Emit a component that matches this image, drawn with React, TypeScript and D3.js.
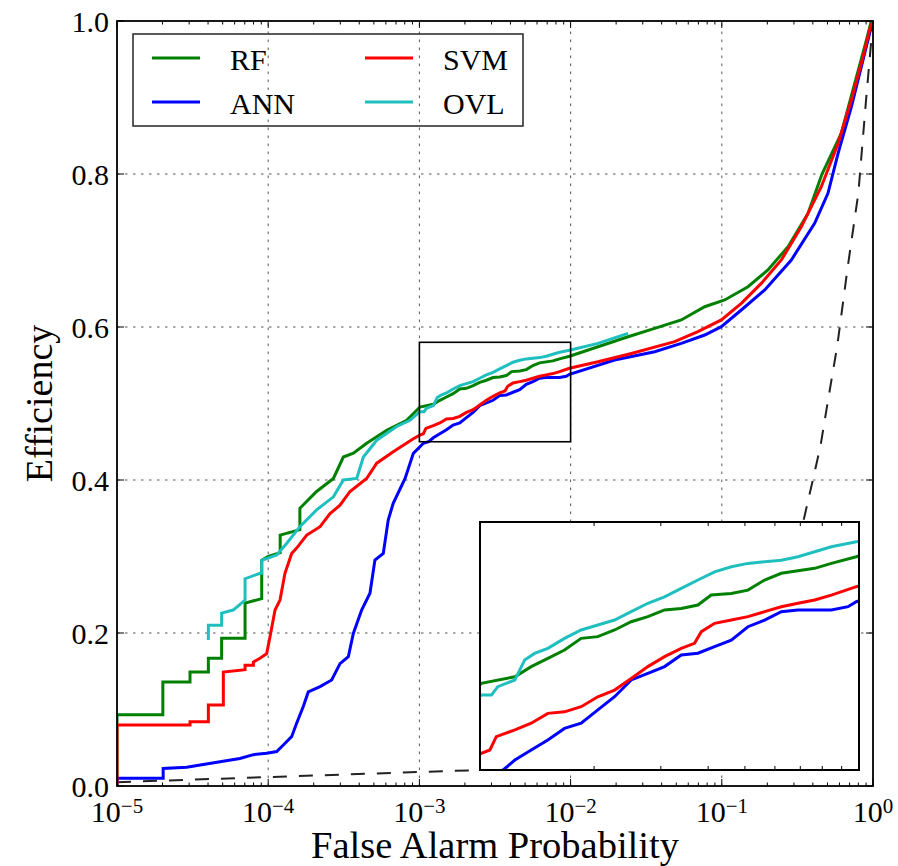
import React from 'react';
import * as d3 from 'd3';

type P = [number, number];

const W = 898;
const H = 866;

const xTickExps = [-5, -4, -3, -2, -1, 0];
const yTickValues = [0, 0.2, 0.4, 0.6, 0.8, 1.0];
const gridXValues = [1e-4, 1e-3, 1e-2, 1e-1];
const gridYValues = [0.2, 0.4, 0.6, 0.8];
const zoomFap = [1e-3, 1e-2];
const zoomEff = [0.45, 0.58];

const seriesNames = ['RF', 'ANN', 'SVM', 'OVL'];
const seriesColors = ['#008000', '#0000ff', '#ff0000', '#20bfbf'];

const rfPoints: P[] = [
  [1e-5, 0], [1e-5, 0.093], [2.01e-5, 0.093], [2.01e-5, 0.136], [3.04e-5, 0.136], [3.04e-5, 0.149],
  [4.02e-5, 0.149], [4.02e-5, 0.167], [4.92e-5, 0.167], [4.92e-5, 0.193], [7.03e-5, 0.193], [7.03e-5, 0.239],
  [9.06e-5, 0.245], [9.06e-5, 0.295], [1.0e-4, 0.30], [1.2e-4, 0.305], [1.2e-4, 0.328], [1.62e-4, 0.335],
  [1.62e-4, 0.363], [2.09e-4, 0.385], [2.7e-4, 0.402], [3.14e-4, 0.43], [3.66e-4, 0.435], [4.48e-4, 0.448],
  [6.08e-4, 0.465], [8.24e-4, 0.478], [1.008e-3, 0.4954], [1.236e-3, 0.4989], [1.365e-3, 0.5042],
  [1.51e-3, 0.5085], [1.671e-3, 0.5129], [1.849e-3, 0.519], [2.046e-3, 0.5199], [2.265e-3, 0.5234],
  [2.506e-3, 0.5277], [2.773e-3, 0.5304], [3.069e-3, 0.5339], [3.396e-3, 0.5347], [3.758e-3, 0.5365],
  [4.074e-3, 0.5417], [4.603e-3, 0.5425], [5.093e-3, 0.5443], [5.636e-3, 0.5496], [6.237e-3, 0.5531],
  [7.638e-3, 0.5557], [8.453e-3, 0.5583], [9.84e-3, 0.5618], [1.517e-2, 0.5742], [2.399e-2, 0.5873],
  [3.597e-2, 0.5982], [5.395e-2, 0.6092], [7.71e-2, 0.6265], [0.1045, 0.6353], [0.149, 0.6527],
  [0.2018, 0.6745], [0.2742, 0.705], [0.3715, 0.7485], [0.46, 0.80], [0.6166, 0.853], [0.7568, 0.9185],
  [0.881, 0.9665], [0.975, 1.0],
];

const annPoints: P[] = [
  [1e-5, 0], [1e-5, 0.010], [2.02e-5, 0.010], [2.02e-5, 0.023], [2.89e-5, 0.0245], [4.8e-5, 0.0318],
  [6.5e-5, 0.036], [7.98e-5, 0.041], [9.77e-5, 0.0427], [1.138e-4, 0.045], [1.259e-4, 0.0536],
  [1.429e-4, 0.0645], [1.542e-4, 0.082], [1.706e-4, 0.104], [1.841e-4, 0.123], [2.203e-4, 0.130],
  [2.63e-4, 0.1386], [2.985e-4, 0.160], [3.388e-4, 0.169], [3.656e-4, 0.1995], [4.15e-4, 0.230],
  [4.71e-4, 0.252], [5.08e-4, 0.2954], [5.77e-4, 0.304], [6.22e-4, 0.3477], [6.71e-4, 0.3695],
  [8.04e-4, 0.402], [9.12e-4, 0.4348], [1.062e-3, 0.448], [1.151e-3, 0.45], [1.236e-3, 0.4552],
  [1.365e-3, 0.4605], [1.51e-3, 0.4657], [1.671e-3, 0.4718], [1.849e-3, 0.4745], [2.046e-3, 0.4815],
  [2.265e-3, 0.4884], [2.506e-3, 0.4972], [2.773e-3, 0.5007], [3.069e-3, 0.5042], [3.396e-3, 0.5103],
  [3.758e-3, 0.5112], [4.159e-3, 0.5147], [4.603e-3, 0.5181], [5.093e-3, 0.5251], [5.636e-3, 0.5286],
  [6.237e-3, 0.533], [6.902e-3, 0.5339], [8.453e-3, 0.5339], [9.354e-3, 0.5356], [9.84e-3, 0.5382],
  [1.954e-2, 0.5569], [3.597e-2, 0.5677], [5.395e-2, 0.5786], [7.71e-2, 0.5895], [9.93e-2, 0.6004],
  [0.1346, 0.6222], [0.1923, 0.6484], [0.2884, 0.6876], [0.4111, 0.7355], [0.5035, 0.7747],
  [0.5875, 0.8269], [0.7194, 0.8879], [0.8375, 0.9402], [0.975, 0.993],
];

const svmPoints: P[] = [
  [1e-5, 0], [1e-5, 0.0797], [3.04e-5, 0.0797], [3.04e-5, 0.084], [4.02e-5, 0.084], [4.02e-5, 0.106],
  [5.05e-5, 0.106], [5.05e-5, 0.149], [7.03e-5, 0.152], [7.03e-5, 0.158], [7.98e-5, 0.158], [7.98e-5, 0.162],
  [8.83e-5, 0.167], [9.77e-5, 0.173], [1.028e-4, 0.195], [1.11e-4, 0.230], [1.197e-4, 0.243],
  [1.291e-4, 0.278], [1.429e-4, 0.304], [1.542e-4, 0.311], [1.799e-4, 0.328], [2.203e-4, 0.339],
  [2.564e-4, 0.356], [2.985e-4, 0.367], [3.475e-4, 0.385], [4.477e-4, 0.402], [5.224e-4, 0.422],
  [6.714e-4, 0.437], [9.12e-4, 0.454], [1.008e-3, 0.4587], [1.062e-3, 0.4605], [1.104e-3, 0.4675],
  [1.236e-3, 0.471], [1.365e-3, 0.4745], [1.51e-3, 0.4797], [1.671e-3, 0.4805], [1.849e-3, 0.4832],
  [2.046e-3, 0.4884], [2.265e-3, 0.4919], [2.506e-3, 0.498], [2.773e-3, 0.5042], [3.069e-3, 0.5094],
  [3.396e-3, 0.5138], [3.681e-3, 0.5164], [3.837e-3, 0.5225], [4.159e-3, 0.5269], [4.603e-3, 0.5286],
  [5.093e-3, 0.5304], [5.636e-3, 0.533], [6.237e-3, 0.5356], [6.902e-3, 0.5374], [7.638e-3, 0.5391],
  [8.453e-3, 0.5417], [9.84e-3, 0.5461], [1.517e-2, 0.5545], [2.523e-2, 0.5654], [4.875e-2, 0.5808],
  [6.95e-2, 0.5939], [9.93e-2, 0.6092], [0.1346, 0.6309], [0.1824, 0.657], [0.2477, 0.6876],
  [0.3357, 0.7311], [0.455, 0.7834], [0.5875, 0.8399], [0.7194, 0.8967], [0.859, 0.9534], [0.975, 0.9974],
];

const ovlPoints: P[] = [
  [4.02e-5, 0.191], [4.02e-5, 0.210], [4.92e-5, 0.210], [4.92e-5, 0.226], [5.87e-5, 0.230], [7.03e-5, 0.243],
  [7.03e-5, 0.271], [8.83e-5, 0.278], [9.06e-5, 0.278], [9.06e-5, 0.295], [1.138e-4, 0.302],
  [1.324e-4, 0.317], [1.62e-4, 0.339], [2.09e-4, 0.361], [2.7e-4, 0.378], [3.14e-4, 0.40], [3.85e-4, 0.402],
  [4.26e-4, 0.43], [5.22e-4, 0.452], [7.08e-4, 0.47], [8.67e-4, 0.478], [1.008e-3, 0.4893],
  [1.072e-3, 0.4893], [1.114e-3, 0.4937], [1.236e-3, 0.4972], [1.312e-3, 0.5077], [1.393e-3, 0.5111],
  [1.51e-3, 0.5138], [1.671e-3, 0.519], [1.849e-3, 0.5234], [2.046e-3, 0.526], [2.265e-3, 0.5286],
  [2.506e-3, 0.533], [2.773e-3, 0.5374], [3.069e-3, 0.5408], [3.396e-3, 0.5452], [3.758e-3, 0.5496],
  [4.159e-3, 0.5539], [4.603e-3, 0.5565], [5.093e-3, 0.5583], [6.237e-3, 0.56], [6.902e-3, 0.5618],
  [7.638e-3, 0.5644], [8.453e-3, 0.567], [9.84e-3, 0.5696], [1.517e-2, 0.5786], [2.399e-2, 0.5917],
];

// dashed reference line (chance line)
const chancePoints: P[] = [
  [0.25, 0.25], [0.3, 0.3], [0.35, 0.35], [0.4, 0.4], [0.45, 0.445], [0.5, 0.5], [0.58, 0.575],
  [0.68, 0.678], [0.8, 0.775], [0.9, 0.897], [1.0, 1.0],
];
// connector start (main-axes data coords)
const connectorStart: P = [1e-5, 0.005];

const seriesPoints = [rfPoints, annPoints, svmPoints, ovlPoints];

const FONT = "'Liberation Serif', 'DejaVu Serif', serif";

export default function App() {
  const x = d3.scaleLog().domain([1e-5, 1]).range([117, 873]);
  const y = d3.scaleLinear().domain([0, 1]).range([786, 21]);
  const xi = d3.scaleLog().domain(zoomFap).range([480, 859]);
  const yi = d3.scaleLinear().domain(zoomEff).range([770, 522]);

  const line = d3.line<P>().x((d) => x(d[0])).y((d) => y(d[1]));
  const lineI = d3.line<P>().x((d) => xi(d[0])).y((d) => yi(d[1]));

  const [x0, x1] = x.range();
  const [y0, y1] = y.range();
  const [ix0, ix1] = xi.range();
  const [iy0, iy1] = yi.range();

  const isMajor = (t: number) => Math.abs(Math.log10(t) - Math.round(Math.log10(t))) < 1e-6;
  const xTicks = x.ticks();
  const iTicks = xi.ticks().filter((t) => !isMajor(t));

  const series = seriesNames.map((name, i) => ({ name, color: seriesColors[i], points: seriesPoints[i] }));
  const legendOrder = [0, 1, 2, 3];

  const connectorEnd: P = [x.invert(ix0), y.invert(iy0)];

  const gridStyle = { stroke: '#555', strokeWidth: 1, strokeDasharray: '2.5,5.5', fill: 'none' };

  return (
    <svg width={W} height={H} style={{ position: 'absolute', left: 0, top: 0, background: '#fff', fontFamily: FONT }}>
      <defs>
        <clipPath id="mainClip">
          <rect x={x0} y={y1} width={x1 - x0} height={y0 - y1} />
        </clipPath>
        <clipPath id="insetClip">
          <rect x={ix0} y={iy1} width={ix1 - ix0} height={iy0 - iy1} />
        </clipPath>
      </defs>
      <rect x={0} y={0} width={W} height={H} fill="#fff" />

      {/* grid */}
      {gridXValues.map((v) => (
        <line key={'gx' + v} x1={x(v)} x2={x(v)} y1={y0} y2={y1} style={gridStyle} />
      ))}
      {gridYValues.map((v) => (
        <line key={'gy' + v} x1={x0} x2={x1} y1={y(v)} y2={y(v)} style={gridStyle} />
      ))}

      {/* chance & connector dashed lines */}
      <g clipPath="url(#mainClip)">
        <path d={line(chancePoints) || ''} fill="none" stroke="#222" strokeWidth={2} strokeDasharray="14,12" />
        <path d={line([connectorStart, connectorEnd]) || ''} fill="none" stroke="#222" strokeWidth={2}
          strokeDasharray="14,12" />
      </g>

      {/* curves */}
      <g clipPath="url(#mainClip)">
        {series.map((s) => (
          <path key={s.name} d={line(s.points) || ''} fill="none" stroke={s.color} strokeWidth={3}
            strokeLinejoin="miter" />
        ))}
      </g>

      {/* zoom rectangle */}
      <rect x={x(zoomFap[0])} y={y(zoomEff[1])} width={x(zoomFap[1]) - x(zoomFap[0])}
        height={y(zoomEff[0]) - y(zoomEff[1])} fill="none" stroke="#000" strokeWidth={1.6} />

      {/* ticks */}
      {xTicks.map((t, i) => {
        const len = isMajor(t) ? 7 : 3.5;
        return (
          <g key={'xt' + i}>
            <line x1={x(t)} x2={x(t)} y1={y0} y2={y0 - len} stroke="#000" strokeWidth={1} />
            <line x1={x(t)} x2={x(t)} y1={y1} y2={y1 + len} stroke="#000" strokeWidth={1} />
          </g>
        );
      })}
      {yTickValues.map((v) => (
        <g key={'yt' + v}>
          <line x1={x0} x2={x0 + 7} y1={y(v)} y2={y(v)} stroke="#000" strokeWidth={1} />
          <line x1={x1} x2={x1 - 7} y1={y(v)} y2={y(v)} stroke="#000" strokeWidth={1} />
        </g>
      ))}

      {/* spine */}
      <rect x={x0} y={y1} width={x1 - x0} height={y0 - y1} fill="none" stroke="#000" strokeWidth={1.8} />

      {/* tick labels */}
      {yTickValues.map((v) => (
        <text key={'yl' + v} x={x0 - 8} y={y(v) + 10.5} textAnchor="end" fontSize={30} fill="#000">
          {v.toFixed(1)}
        </text>
      ))}
      {xTickExps.map((e) => (
        <text key={'xl' + e} x={x(Math.pow(10, e))} y={822} textAnchor="middle" fontSize={30} fill="#000">
          10
          <tspan fontSize={21} dy={-9}>{e < 0 ? '\u2212' + Math.abs(e) : String(e)}</tspan>
        </text>
      ))}

      {/* axis labels */}
      <text x={(x0 + x1) / 2} y={858} textAnchor="middle" fontSize={38.5} fill="#000">
        False Alarm Probability
      </text>
      <text transform={`translate(52,${(y0 + y1) / 2}) rotate(-90)`} textAnchor="middle" fontSize={38}
        fill="#000">
        Efficiency
      </text>

      {/* legend */}
      <rect x={133} y={34} width={390} height={92} fill="none" stroke="#333" strokeWidth={1.6} />
      {legendOrder.map((si, k) => {
        const col = Math.floor(k / 2);
        const row = k % 2;
        const lx = 152 + col * 213;
        const ly = 58 + row * 44;
        const s = series[si];
        return (
          <g key={'lg' + s.name}>
            <line x1={lx} x2={lx + 48} y1={ly} y2={ly} stroke={s.color} strokeWidth={3} />
            <text x={lx + 78} y={ly + 11.5} fontSize={30} fill="#000">{s.name}</text>
          </g>
        );
      })}

      {/* inset */}
      <rect x={ix0} y={iy1} width={ix1 - ix0} height={iy0 - iy1} fill="#fff" />
      <g clipPath="url(#insetClip)">
        {series.map((s) => (
          <path key={'i' + s.name} d={lineI(s.points) || ''} fill="none" stroke={s.color} strokeWidth={3} />
        ))}
      </g>
      {iTicks.map((t, i) => (
        <g key={'it' + i}>
          <line x1={xi(t)} x2={xi(t)} y1={iy0} y2={iy0 - 4} stroke="#000" strokeWidth={1} />
          <line x1={xi(t)} x2={xi(t)} y1={iy1} y2={iy1 + 4} stroke="#000" strokeWidth={1} />
        </g>
      ))}
      <rect x={ix0} y={iy1} width={ix1 - ix0} height={iy0 - iy1} fill="none" stroke="#000" strokeWidth={2} />
    </svg>
  );
}
